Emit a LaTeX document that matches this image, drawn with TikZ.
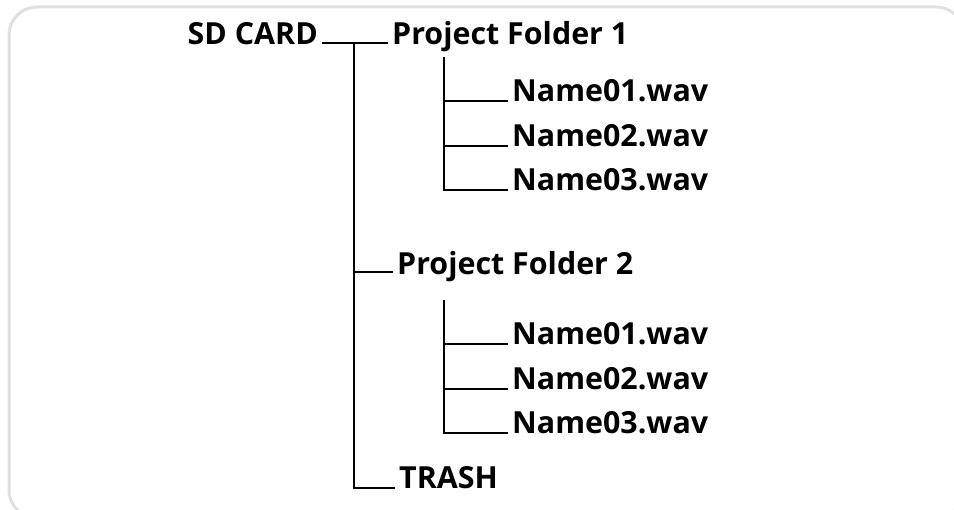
\documentclass[tikz,border=0pt]{standalone}
\usepackage{fontspec}
\setmainfont{Open Sans}
\begin{document}
\begin{tikzpicture}[x=1pt,y=-1pt,
  lbl/.style={inner xsep=4pt, inner ysep=0pt, font=\fontsize{30.4}{34}\selectfont\bfseries, text=black},
  ln/.style={line width=2.6pt, black}]
\useasboundingbox (0,0) rectangle (954,510);
\draw[black!12, line width=3pt, rounded corners=28pt] (9,7) rectangle (964,518);
% nodes
\node[lbl, anchor=base east] (sd) at (322,45) {SD CARD};
\node[lbl, anchor=base west] (pf1) at (388,45) {Project Folder 1};
\node[lbl, anchor=base west] (a1) at (508,102) {Name01.wav};
\node[lbl, anchor=base west] (a2) at (508,147) {Name02.wav};
\node[lbl, anchor=base west] (a3) at (508,191) {Name03.wav};
\node[lbl, anchor=base west] (pf2) at (393,275) {Project Folder 2};
\node[lbl, anchor=base west] (b1) at (508,345) {Name01.wav};
\node[lbl, anchor=base west] (b2) at (508,390) {Name02.wav};
\node[lbl, anchor=base west] (b3) at (508,434) {Name03.wav};
\node[lbl, anchor=base west] (tr) at (395,489) {TRASH};
% junctions
\coordinate (j0) at (354,43);
\coordinate (j1) at (444,57);
\coordinate (j2) at (444,300);
% connectors (yshift in pt: positive = up)
\draw[ln] ([yshift=2pt]sd.base east) -- ([yshift=2pt]pf1.base west);
\draw[ln] (j0) |- ([yshift=1pt]tr.base west);
\draw[ln] ([yshift=3pt]j0 |- pf2.base west) -- ([yshift=3pt]pf2.base west);
\draw[ln] (j1) |- ([yshift=1pt]a3.base west);
\draw[ln] ([yshift=1pt]j1 |- a1.base west) -- ([yshift=1pt]a1.base west);
\draw[ln] ([yshift=1pt]j1 |- a2.base west) -- ([yshift=1pt]a2.base west);
\draw[ln] (j2) |- ([yshift=1pt]b3.base west);
\draw[ln] ([yshift=1pt]j2 |- b1.base west) -- ([yshift=1pt]b1.base west);
\draw[ln] ([yshift=1pt]j2 |- b2.base west) -- ([yshift=1pt]b2.base west);
\end{tikzpicture}
\end{document}
